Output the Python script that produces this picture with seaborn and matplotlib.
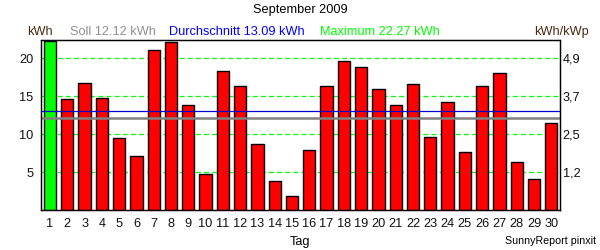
import matplotlib
matplotlib.use("Agg")
import matplotlib.pyplot as plt
import seaborn as sns
import pandas as pd

days = [str(d) for d in range(1, 31)]
energy = [22.27, 14.6, 16.7, 14.7, 9.47, 7.1, 21.05, 22.2, 13.8, 4.74,
          18.3, 16.3, 8.68, 3.8, 1.84, 7.9, 16.3, 19.7, 18.8, 15.9,
          13.8, 16.6, 9.6, 14.2, 7.6, 16.3, 18.0, 6.3, 4.08, 11.45]
soll = 12.12
average = 13.09
maximum = 22.27
left_ticks = [5, 10, 15, 20]
right_labels = ["1,2", "2,5", "3,7", "4,9"]

sns.set_theme(style="white")
plt.rcParams['font.family'] = ['Liberation Sans', 'DejaVu Sans']

df = pd.DataFrame({"Tag": days, "kWh": energy})
colors = ["#00ff00" if v == max(energy) else "#ff0000" for v in energy]

fig = plt.figure(figsize=(6, 2.5), dpi=100)
ax = fig.add_axes([40.5 / 600, 1 - 210 / 250, (560 - 40.5) / 600, (210 - 40.5) / 250])

sns.barplot(data=df, x="Tag", y="kWh", hue="Tag", palette=colors, legend=False,
            width=0.71, edgecolor="black", linewidth=1.0, saturation=1, ax=ax, zorder=3)

ax.set_ylim(0, 22.34)
ax.set_xlim(-0.55, 29.5)
for t in left_ticks:
    ax.axhline(t, color="#00ff00", lw=0.9, ls=(0, (4, 2.5)), zorder=1)
ax.axhline(average, color="#0000cc", lw=0.9, zorder=4)
ax.axhline(soll, color="#808080", lw=1.8, zorder=4)

fs = 9.2
ax.set_yticks(left_ticks)
ax.set_yticklabels([str(t) for t in left_ticks])
ax.tick_params(axis="both", length=0, labelsize=fs, colors="#111111")
ax.tick_params(axis="y", pad=5)
ax.tick_params(axis="x", pad=6)
ax.set_xlabel("")
ax.set_ylabel("")

ax2 = ax.twinx()
ax2.set_ylim(ax.get_ylim())
ax2.set_yticks(left_ticks)
ax2.set_yticklabels(right_labels)
ax2.tick_params(axis="y", length=0, labelsize=fs, colors="#111111", pad=2)

for a in (ax, ax2):
    for s in a.spines.values():
        s.set_color("black")
        s.set_linewidth(0.9)

fig.text(0.5, 1 - 10 / 250, "September 2009", ha="center", va="center", fontsize=fs, color="black")
fig.text(27 / 600, 1 - 32 / 250, "kWh", ha="left", va="center", fontsize=fs, color="#4a2a10")
fig.text(70 / 600, 1 - 32 / 250, "Soll 12.12 kWh", ha="left", va="center", fontsize=fs, color="#909090")
fig.text(169 / 600, 1 - 32 / 250, "Durchschnitt 13.09 kWh", ha="left", va="center", fontsize=fs, color="#0000ff")
fig.text(320 / 600, 1 - 32 / 250, "Maximum 22.27 kWh", ha="left", va="center", fontsize=fs, color="#00ff00")
fig.text(589 / 600, 1 - 32 / 250, "kWh/kWp", ha="right", va="center", fontsize=fs, color="#4a2a10")
fig.text(0.5, 1 - 242 / 250, "Tag", ha="center", va="center", fontsize=fs, color="black")
fig.text(596 / 600, 1 - 241 / 250, "SunnyReport pinxit", ha="right", va="center", fontsize=7.7, color="black")

fig.savefig("out.png", dpi=100, facecolor="white")
